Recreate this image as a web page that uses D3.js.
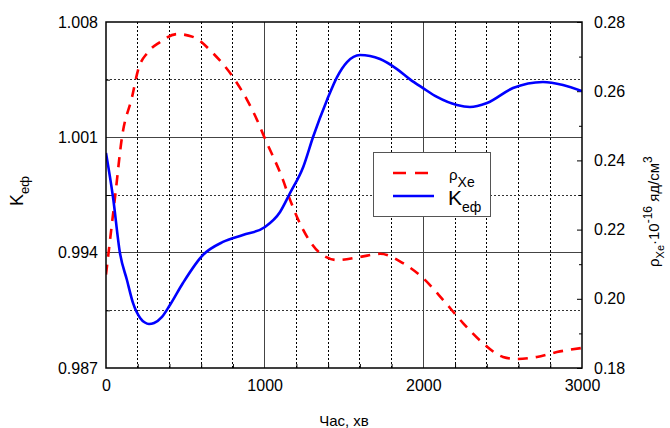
<!DOCTYPE html>
<html><head><meta charset="utf-8">
<script src="https://cdn.jsdelivr.net/npm/d3@7"></script>
<style>
body{margin:0;background:#fff;}
text{font-family:"Liberation Sans",Arial,sans-serif;fill:#000;}
</style></head>
<body><svg id="c" width="670" height="428"></svg>
<script>
const timeK = [0, 44, 88, 132, 170, 215, 245, 271, 303, 353, 403, 485, 611, 737, 863, 1002, 1097, 1160, 1243, 1305, 1393, 1456, 1519, 1601, 1727, 1834, 1916, 1998, 2086, 2212, 2294, 2401, 2565, 2754, 2880, 3000];
const kEff = [1.00005, 0.99738, 0.99398, 0.99234, 0.99095, 0.99004, 0.98976, 0.98967, 0.98973, 0.9901, 0.99082, 0.99216, 0.99386, 0.99465, 0.99507, 0.99556, 0.99647, 0.99762, 0.9992, 1.00102, 1.00327, 1.00466, 1.00557, 1.006, 1.00575, 1.00514, 1.00452, 1.00399, 1.00345, 1.00296, 1.00284, 1.00308, 1.00399, 1.00436, 1.00418, 1.00381];
const timeRho = [0, 57, 101, 164, 202, 265, 340, 448, 548, 674, 800, 889, 952, 1000, 1116, 1160, 1243, 1349, 1456, 1601, 1727, 1872, 1998, 2124, 2250, 2376, 2502, 2590, 2716, 2842, 3000];
const rhoXe = [0.207, 0.2294, 0.2468, 0.2583, 0.2661, 0.2713, 0.2742, 0.2765, 0.2757, 0.271, 0.2641, 0.2575, 0.2517, 0.2465, 0.2343, 0.2286, 0.2199, 0.2132, 0.2112, 0.2121, 0.213, 0.2103, 0.206, 0.1997, 0.193, 0.1872, 0.1832, 0.1826, 0.1832, 0.1846, 0.1858];
const xTicks = [0, 1000, 2000, 3000];
const xMinor = [200, 400, 600, 800, 1200, 1400, 1600, 1800, 2200, 2400, 2600, 2800];
const yLeftTicks = [0.987, 0.994, 1.001, 1.008];
const yLeftMinor = [0.9905, 0.9975, 1.0045];
const yRightTicks = [0.18, 0.20, 0.22, 0.24, 0.26, 0.28];
const yRightMinor = [0.19, 0.21, 0.23, 0.25, 0.27];

const svg = d3.select("#c");
const L = 106, R = 582, T = 22, B = 368;
const x = d3.scaleLinear().domain([0, 3000]).range([L, R]);
const yL = d3.scaleLinear().domain([0.987, 1.008]).range([B, T]);
const yR = d3.scaleLinear().domain([0.18, 0.28]).range([B, T]);

// grid
const g = svg.append("g");
xMinor.forEach(v => g.append("line").attr("x1", x(v)).attr("x2", x(v)).attr("y1", T).attr("y2", B)
  .attr("stroke", "#000").attr("stroke-width", 1).attr("stroke-dasharray", "1.5,2.5").attr("shape-rendering","crispEdges"));
yLeftMinor.forEach(v => g.append("line").attr("x1", L).attr("x2", R).attr("y1", yL(v)).attr("y2", yL(v))
  .attr("stroke", "#333").attr("stroke-width", 1).attr("stroke-dasharray", "1.5,2.5").attr("shape-rendering","crispEdges"));
[1000, 2000].forEach(v => g.append("line").attr("x1", x(v)).attr("x2", x(v)).attr("y1", T).attr("y2", B)
  .attr("stroke", "#444").attr("stroke-width", 1).attr("shape-rendering","crispEdges"));
[0.994, 1.001].forEach(v => g.append("line").attr("x1", L).attr("x2", R).attr("y1", yL(v)).attr("y2", yL(v))
  .attr("stroke", "#444").attr("stroke-width", 1).attr("shape-rendering","crispEdges"));

// axes with inward ticks
const fs = "16px";
const ax = svg.append("g").attr("transform", `translate(0,${B})`)
  .call(d3.axisBottom(x).tickValues(xTicks).tickSize(0).tickPadding(12).tickFormat(d3.format("d")));
ax.select(".domain").remove();
ax.selectAll("text").style("font-size", fs);
const axm = svg.append("g").attr("transform", `translate(0,${B})`)
  .call(d3.axisBottom(x).tickValues(xMinor).tickSize(-4).tickFormat(""));
axm.select(".domain").remove();

const al = svg.append("g").attr("transform", `translate(${L},0)`)
  .call(d3.axisLeft(yL).tickValues(yLeftTicks).tickSize(0).tickPadding(8).tickFormat(d3.format(".3f")));
al.select(".domain").remove();
al.selectAll("text").style("font-size", fs);
const alm = svg.append("g").attr("transform", `translate(${L},0)`)
  .call(d3.axisLeft(yL).tickValues(yLeftMinor).tickSize(-4).tickFormat(""));
alm.select(".domain").remove();

const ar = svg.append("g").attr("transform", `translate(${R},0)`)
  .call(d3.axisRight(yR).tickValues(yRightTicks).tickSize(-5).tickPadding(12).tickFormat(d3.format(".2f")));
ar.select(".domain").remove();
ar.selectAll("text").style("font-size", fs);
const arm = svg.append("g").attr("transform", `translate(${R},0)`)
  .call(d3.axisRight(yR).tickValues(yRightMinor).tickSize(-3).tickFormat(""));
arm.select(".domain").remove();

// curves
const lineK = d3.line().x((d, i) => x(timeK[i])).y(d => yL(d)).curve(d3.curveMonotoneX);
const lineR = d3.line().x((d, i) => x(timeRho[i])).y(d => yR(d)).curve(d3.curveMonotoneX);
svg.append("clipPath").attr("id", "cp").append("rect").attr("x", L).attr("y", T).attr("width", R - L).attr("height", B - T);
svg.append("path").datum(rhoXe).attr("d", lineR).attr("fill", "none").attr("stroke", "#ff0000")
  .attr("stroke-width", 2.6).attr("stroke-dasharray", "10,8").attr("clip-path", "url(#cp)");
svg.append("path").datum(kEff).attr("d", lineK).attr("fill", "none").attr("stroke", "#0000ff")
  .attr("stroke-width", 2.6).attr("clip-path", "url(#cp)");

// frame
svg.append("rect").attr("x", L).attr("y", T).attr("width", R - L).attr("height", B - T)
  .attr("fill", "none").attr("stroke", "#000").attr("stroke-width", 1.5);

// legend
const lg = svg.append("g");
lg.append("rect").attr("x", 373.5).attr("y", 152.5).attr("width", 117).attr("height", 64)
  .attr("fill", "#fff").attr("stroke", "#555").attr("stroke-width", 1);
lg.append("line").attr("x1", 393).attr("x2", 428).attr("y1", 173).attr("y2", 173)
  .attr("stroke", "#ff0000").attr("stroke-width", 2.6).attr("stroke-dasharray", "13,9");
lg.append("line").attr("x1", 393).attr("x2", 434).attr("y1", 196).attr("y2", 196)
  .attr("stroke", "#0000ff").attr("stroke-width", 2.6);
const t1 = lg.append("text").attr("x", 449).attr("y", 180).style("font-size", "15px");
t1.append("tspan").text("ρ");
t1.append("tspan").attr("dy", 7).style("font-size", "14px").text("Xe");
const t2 = lg.append("text").attr("x", 448).attr("y", 205).style("font-size", "21px");
t2.append("tspan").text("K");
t2.append("tspan").attr("dy", 7).style("font-size", "14px").text("еф");

// axis titles
svg.append("text").attr("x", (L + R) / 2).attr("y", 426).attr("text-anchor", "middle").style("font-size", "15px").text("Час, хв");
const lt = svg.append("text").attr("transform", "translate(23,206) rotate(-90)").style("font-size", "18px");
lt.append("tspan").text("K");
lt.append("tspan").attr("dy", 6).style("font-size", "13px").text("еф");
const rt = svg.append("text").attr("transform", "translate(659,267) rotate(-90)").style("font-size", "15px");
rt.append("tspan").text("ρ");
rt.append("tspan").attr("dy", 5).style("font-size", "11px").text("Xe");
rt.append("tspan").attr("dy", -5).text("·10");
rt.append("tspan").attr("dy", -7).style("font-size", "12px").text("-16");
rt.append("tspan").attr("dy", 7).text(" яд/см");
rt.append("tspan").attr("dy", -7).style("font-size", "12px").text("3");
</script></body></html>
